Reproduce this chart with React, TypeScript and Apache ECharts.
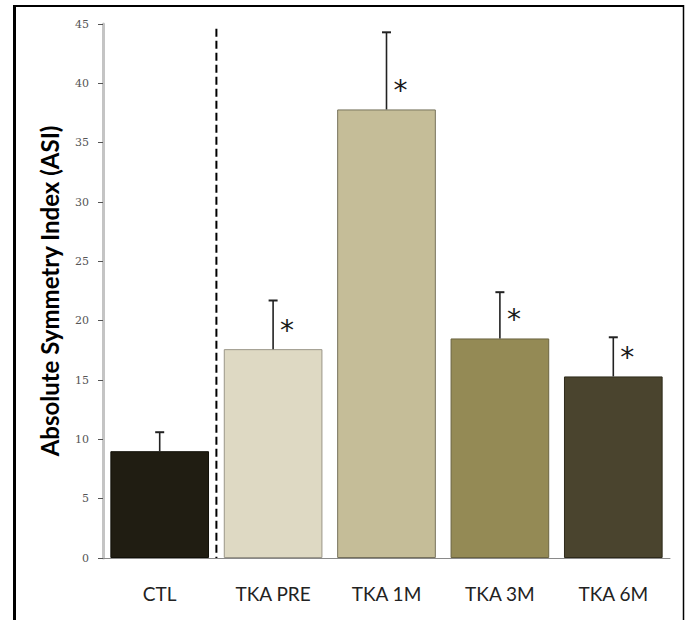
import React, { useEffect, useRef } from "react";
import * as echarts from "echarts";

const categories = ["CTL", "TKA PRE", "TKA 1M", "TKA 3M", "TKA 6M"];
const means = [9.0, 17.6, 37.8, 18.5, 15.3];
const upperErr = [10.6, 21.7, 44.3, 22.4, 18.6];
const significant = [false, true, true, true, true];
const barColors = ["#201d12", "#ded9c3", "#c5bd98", "#948a55", "#4a442e"];
const barBorders = ["#111008", "#9a9688", "#77725c", "#6b6440", "#2e2a1a"];
const yTicks = { min: 0, max: 45, interval: 5 };
const yTitle = "Absolute Symmetry Index (ASI)";

export default function App() {
  const ref = useRef<HTMLDivElement>(null);
  useEffect(() => {
    if (!ref.current) return;
    const chart = echarts.init(ref.current, undefined, { renderer: "svg" });
    const errData = categories.map((c, i) => [i, means[i], upperErr[i], significant[i] ? 1 : 0]);
    chart.setOption({
      animation: false,
      backgroundColor: "#fff",
      grid: { left: 103, right: 16, top: 24, bottom: 62 },
      xAxis: {
        type: "category",
        data: categories,
        axisLine: { lineStyle: { color: "#8a8a8a", width: 1 } },
        axisTick: { show: false },
        axisLabel: { color: "#222", fontSize: 19, fontFamily: "Lato", margin: 26 },
      },
      yAxis: {
        type: "value",
        min: yTicks.min,
        max: yTicks.max,
        interval: yTicks.interval,
        name: yTitle,
        nameLocation: "middle",
        nameGap: 42,
        nameTextStyle: { color: "#000", fontSize: 24, fontWeight: "bold", fontFamily: "Lato" },
        axisLine: { show: true, lineStyle: { color: "#c4c4c4", width: 3 } },
        axisTick: { show: true, length: 5, lineStyle: { color: "#555", width: 1 } },
        axisLabel: { color: "#555", fontSize: 11, fontFamily: "DejaVu Serif", margin: 14 },
        splitLine: { show: false },
      },
      series: [
        {
          type: "bar",
          data: means.map((v, i) => ({
            value: v,
            itemStyle: { color: barColors[i], borderColor: barBorders[i], borderWidth: 1 },
          })),
          barCategoryGap: "13%",
        },
        {
          type: "custom",
          data: errData,
          z: 5,
          renderItem: (params: any, api: any) => {
            const idx = api.value(0);
            const base = api.coord([idx, api.value(1)]);
            const top = api.coord([idx, api.value(2)]);
            const sig = api.value(3);
            const children: any[] = [
              {
                type: "line",
                shape: { x1: base[0], y1: base[1], x2: top[0], y2: top[1] },
                style: { stroke: "#222", lineWidth: 1.6 },
              },
              {
                type: "line",
                shape: { x1: top[0] - 4.5, y1: top[1], x2: top[0] + 4.5, y2: top[1] },
                style: { stroke: "#222", lineWidth: 2 },
              },
            ];
            if (sig) {
              children.push({
                type: "text",
                style: {
                  text: "*",
                  x: base[0] + 14,
                  y: base[1] - 19,
                  fill: "#1a1a1a",
                  font: "28px 'DejaVu Sans'",
                  align: "center",
                  verticalAlign: "middle",
                },
              });
            }
            return { type: "group", children };
          },
        },
        {
          type: "custom",
          data: [[0]],
          z: 6,
          renderItem: (params: any, api: any) => {
            const p = api.coord([0, 0]);
            const w = api.size([1, 0])[0];
            const t = api.coord([0, 44.6]);
            const x = p[0] + w / 2;
            return {
              type: "line",
              shape: { x1: x, y1: t[1], x2: x, y2: p[1] },
              style: { stroke: "#000", lineWidth: 2, lineDash: [8, 4] },
            };
          },
        },
      ],
      graphic: [
        { type: "line", shape: { x1: 14.5, y1: 5, x2: 14.5, y2: 620 }, style: { stroke: "#000", lineWidth: 3 } },
        { type: "line", shape: { x1: 13, y1: 6, x2: 684, y2: 6 }, style: { stroke: "#000", lineWidth: 2 } },
        { type: "line", shape: { x1: 683.5, y1: 5, x2: 683.5, y2: 620 }, style: { stroke: "#000", lineWidth: 1.5 } },
      ],
    });
    return () => chart.dispose();
  }, []);
  return (
    <div
      ref={ref}
      style={{ position: "fixed", left: 0, top: 0, width: 686, height: 620 }}
    />
  );
}
